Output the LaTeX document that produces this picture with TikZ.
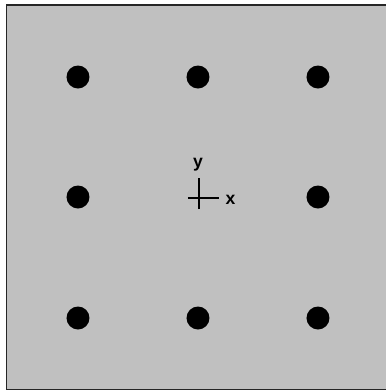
\documentclass[tikz,border=0pt]{standalone}
\usepackage{fontspec}
\setmainfont{Liberation Sans}
\usetikzlibrary{positioning}
\definecolor{panel}{RGB}{192,192,192}
\tikzset{
  hole/.style={fill=black},
  axis/.style={line width=0.9pt},
  axislabel/.style={inner sep=0pt,font=\fontsize{12.5}{12.5}\selectfont\bfseries}
}

\begin{document}
\begin{tikzpicture}[x=0.025cm,y=-0.025cm]
  \useasboundingbox (0,0) rectangle (386,391);
  \clip (0,0) rectangle (386,391);
  \fill[white] (0,0) rectangle (386,391);
  \filldraw[fill=panel,draw=black!85,line width=1.4pt] (6.5,5) rectangle (392,389.5);
  \foreach \x/\y in {78/77,198/77,318/77,78/197,318/197,78/318,198/318,318/318} {
    \fill[hole] (\x,\y) circle (11.5);
  }
  \coordinate (o) at (199,198);
  \draw[axis] (o) ++(-11,0) -- ++(31,0);
  \draw[axis] (o) ++(0,11) -- ++(0,-31);
  \node[axislabel] (xlab) at (230.5,200) {x};
  \node[axislabel] (ylab) at (198,165) {y};
\end{tikzpicture}
\end{document}
